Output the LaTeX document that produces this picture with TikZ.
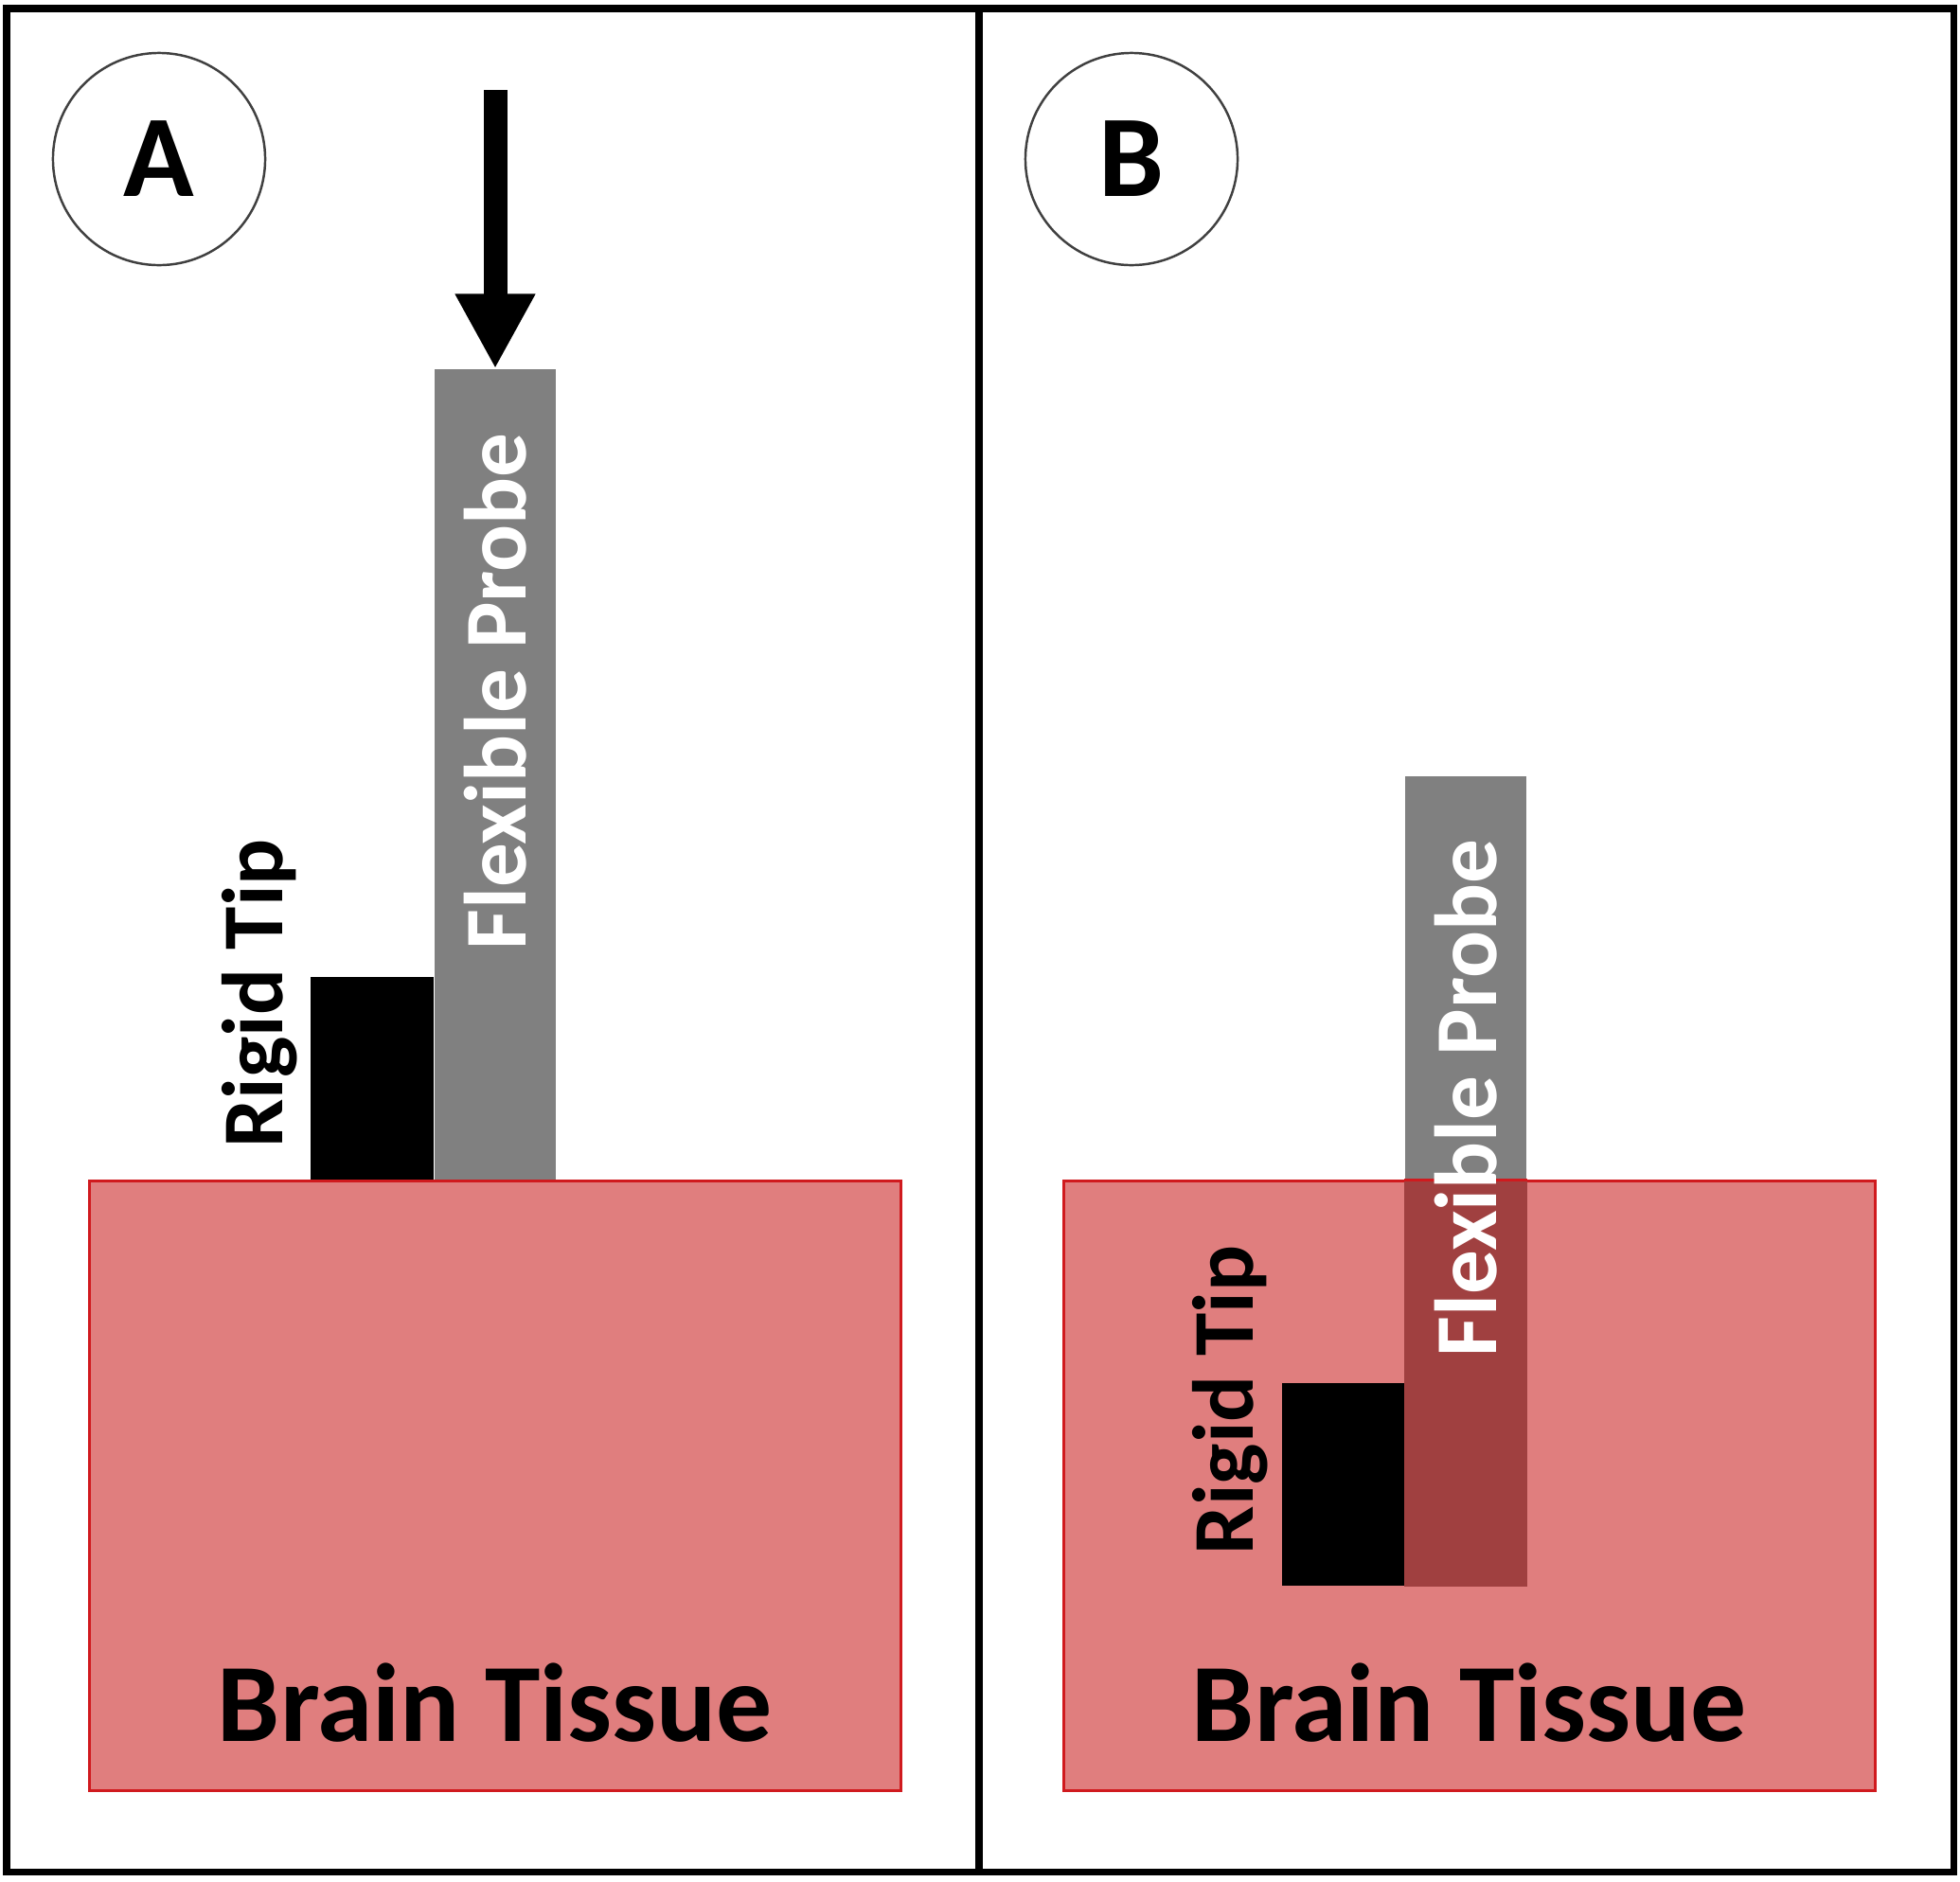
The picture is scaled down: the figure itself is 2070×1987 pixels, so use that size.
\documentclass[tikz,border=0pt]{standalone}
\usepackage{fontspec}
\setmainfont{Carlito}
\usetikzlibrary{arrows.meta, positioning}
\definecolor{tissuefill}{HTML}{E07E7E}
\definecolor{tissueline}{HTML}{D01A1E}
\definecolor{probegray}{HTML}{808080}
\definecolor{probedark}{HTML}{A04040}
\tikzstyle{panel} = [draw=black, line width=2pt]
\tikzstyle{badge} = [circle, draw=black!75, line width=0.7pt, minimum size=2.24cm, font=\fontsize{35}{40}\selectfont\bfseries]
\tikzstyle{tissue} = [rectangle, draw=tissueline, fill=tissuefill, line width=0.8pt, minimum width=8.56cm, minimum height=6.43cm, inner sep=0pt]
\tikzstyle{probe} = [rectangle, fill=probegray, minimum width=1.28cm, minimum height=8.55cm, inner sep=0pt]
\tikzstyle{rigid} = [rectangle, fill=black, minimum width=1.29cm, minimum height=2.14cm, inner sep=0pt]
\tikzstyle{probelabel} = [rotate=90, anchor=base east, inner sep=0pt, text=white, font=\fontsize{26.5}{30}\selectfont\bfseries]
\tikzstyle{tiplabel} = [rotate=90, anchor=base west, inner sep=0pt, font=\fontsize{26}{30}\selectfont\bfseries]
\tikzstyle{tissuelabel} = [anchor=base, inner sep=0pt, font=\fontsize{33.5}{38}\selectfont\bfseries]
\tikzstyle{arrow} = [line width=0.25cm, -{Triangle[width=0.79cm, length=0.79cm]}]

\begin{document}
\begin{tikzpicture}[x=0.01cm, y=-0.01cm]

    \useasboundingbox (0,0) rectangle (2070,1987);
    \fill[white] (0,0) rectangle (2070,1987);

    % frame
    \draw[panel] (7,9) rectangle (2063,1977);
    \draw[panel] (1034,9) -- (1034,1977);

    % panel A
    \node (badgeA) [badge] at (168,168) {A};
    \node (tissueA) [tissue] at (523,1569.5) {};
    \node (probeA) [probe, anchor=south] at (tissueA.north) {};
    \node (rigidA) [rigid, anchor=south east] at (probeA.south west) {};
    \node (probeA text) [probelabel] at ([xshift=-0.32cm, yshift=-0.67cm]probeA.north east) {Flexible Probe};
    \node (rigidA text) [tiplabel] at ([xshift=-0.29cm, yshift=0.33cm]rigidA.south west) {Rigid Tip};
    \node (tissueA text) [tissuelabel] at ([yshift=0.53cm]tissueA.south) {Brain Tissue};
    \coordinate (push) at (523,95);
    \draw [arrow] (push) -- (probeA.north);

    % panel B
    \node (badgeB) [badge] at (1195,168) {B};
    \node (tissueB) [tissue] at (1552,1569.5) {};
    \node (probeB) [probe] at (1548,1247.5) {};
    \fill[probedark] (probeB.west |- tissueB.north) rectangle (probeB.south east);
    \draw[tissueline, line width=0.8pt] (probeB.west |- tissueB.north) -- (probeB.east |- tissueB.north);
    \node (rigidB) [rigid, anchor=south east] at (probeB.south west) {};
    \node (probeB text) [probelabel] at ([xshift=-0.32cm, yshift=-0.67cm]probeB.north east) {Flexible Probe};
    \node (rigidB text) [tiplabel] at ([xshift=-0.29cm, yshift=0.33cm]rigidB.south west) {Rigid Tip};
    \node (tissueB text) [tissuelabel] at ([yshift=0.53cm]tissueB.south) {Brain Tissue};

\end{tikzpicture}
\end{document}
